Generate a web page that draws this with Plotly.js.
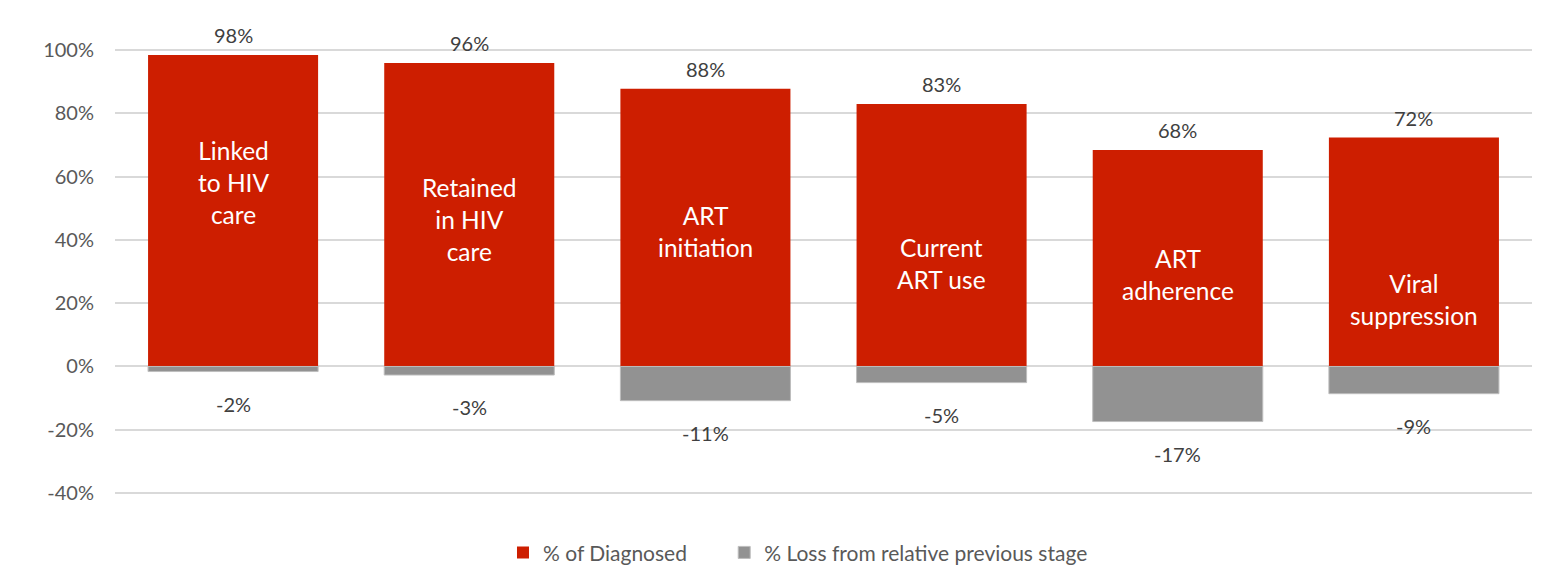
<!DOCTYPE html>
<html>
<head>
<meta charset="utf-8">
<script src="https://cdn.plot.ly/plotly-3.0.1.min.js"></script>
<style>html,body{margin:0;padding:0;background:#fff;}#chart{width:1551px;height:574px;}</style>
</head>
<body>
<div id="chart"></div>
<script>
const stages = ["Linked to HIV care", "Retained in HIV care", "ART initiation", "Current ART use", "ART adherence", "Viral suppression"];
const stageLabels = ["Linked<br>to HIV<br>care", "Retained<br>in HIV<br>care", "ART<br>initiation", "Current<br>ART use", "ART<br>adherence", "Viral<br>suppression"];
const pctDiagnosed = [98.4, 95.9, 87.7, 82.9, 68.4, 72.3];
const pctLoss = [-1.6, -2.7, -10.8, -5.1, -17.4, -8.6];
const yTickVals = [-40, -20, 0, 20, 40, 60, 80, 100];
const yTickText = ["-40%", "-20%", "0%", "20%", "40%", "60%", "80%", "100%"];
const seriesNames = ["% of Diagnosed", "% Loss from relative previous stage"];

const FONT = "Lato, 'Open Sans', sans-serif";
const RED = "#CD1E00";
const GRAY = "#929292";

const traces = [
  {type: "bar", name: seriesNames[0] + "&nbsp;&nbsp;&nbsp;&nbsp;&nbsp;&nbsp;", x: stages, y: pctDiagnosed,
   marker: {color: RED}, hoverinfo: "skip"},
  {type: "bar", name: seriesNames[1], x: stages, y: pctLoss,
   marker: {color: GRAY, line: {color: "#BDBDBD", width: 1}}, hoverinfo: "skip"}
];

const labelShift = [128, 157, 143, 159, 125, 162];
const annotations = [];
stages.forEach((s, i) => {
  annotations.push({x: s, y: pctDiagnosed[i], text: Math.round(pctDiagnosed[i]) + "%",
    showarrow: false, yanchor: "middle", yshift: 20, font: {family: FONT, size: 20, color: "#404040"}});
  annotations.push({x: s, y: pctLoss[i], text: Math.round(pctLoss[i]) + "%",
    showarrow: false, yanchor: "middle", yshift: -32, font: {family: FONT, size: 20, color: "#404040"}});
  annotations.push({x: s, y: pctDiagnosed[i], text: stageLabels[i],
    showarrow: false, yanchor: "middle", yshift: -labelShift[i], font: {family: FONT, size: 24.5, color: "#FFFFFF"}});
});

const layout = {
  width: 1551, height: 574,
  margin: {l: 115, r: 19, t: 48, b: 79},
  paper_bgcolor: "#fff", plot_bgcolor: "#fff",
  barmode: "relative", bargap: 0.28,
  font: {family: FONT, color: "#595959"},
  xaxis: {showticklabels: false, showgrid: false, zeroline: false, showline: false, ticks: ""},
  yaxis: {range: [-40.6, 100.6], tickvals: yTickVals, ticktext: yTickText,
          showgrid: true, gridcolor: "#D9D9D9", gridwidth: 2,
          zeroline: false, showline: false, ticks: "", ticklabelstandoff: 20,
          tickfont: {family: FONT, size: 20, color: "#595959"}},
  legend: {orientation: "h", x: 0.482, xanchor: "center", xref: "paper",
           y: 0.037, yanchor: "middle", yref: "container",
           font: {family: FONT, size: 21, color: "#595959"}, itemwidth: 30},
  showlegend: true,
  annotations: annotations
};

Plotly.newPlot("chart", traces, layout, {displayModeBar: false, staticPlot: true});
</script>
</body>
</html>
